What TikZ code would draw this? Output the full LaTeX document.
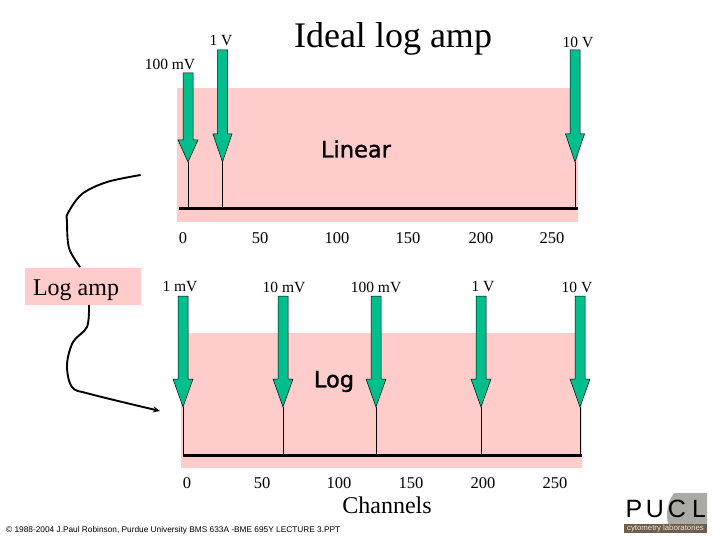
\documentclass[tikz,border=0pt]{standalone}
\usepackage{fontspec}
\setmainfont{Liberation Serif}
\newfontfamily\labelfont[FakeBold=1.2]{DejaVu Sans}
\newfontfamily\footfont{Liberation Sans}
\usetikzlibrary{arrows.meta}
\definecolor{bandpink}{HTML}{FFCCCC}
\definecolor{arrowgreen}{HTML}{00BF8C}
\definecolor{logobrown}{HTML}{6E5E4C}
\definecolor{logogray}{HTML}{ABABA6}
\tikzset{
  band/.style={fill=bandpink,draw=none},
  pointer/.style={fill=arrowgreen,draw=black,line width=0.5pt,line join=miter},
  tickline/.style={draw=black,line width=0.9pt},
  axisline/.style={draw=black,line width=3pt},
  curveline/.style={draw=black,line width=1.9pt,line join=round},
  val/.style={font=\fontsize{16.5}{18}\selectfont,inner sep=0pt},
  volt/.style={font=\fontsize{15.5}{18}\selectfont,inner sep=0pt},
  big/.style={font=\fontsize{24}{28}\selectfont,inner sep=0pt},
  scalename/.style={font=\labelfont\fontsize{22.5}{26}\selectfont,inner sep=0pt},
  logoletter/.style={inner sep=0pt,font=\footfont\fontsize{25}{28}\selectfont},
}
% name, x, top, head base y, half head width, tip y
\newcommand{\greenarrow}[6]{%
  \draw[pointer] ({#2-5},#3) -- ({#2+5},#3) -- ({#2+5},#4) -- ({#2+#5},#4) -- (#2,#6)
     -- ({#2-#5},#4) -- ({#2-5},#4) -- cycle;
  \coordinate (#1) at (#2,#6);}
\begin{document}
\begin{tikzpicture}[x=1pt,y=-1pt]
\useasboundingbox (0,0) rectangle (720,540);
\fill[white] (0,0) rectangle (720,540);
% bands
\path[band] (177,88) rectangle (578,222);
\path[band] (181,333) rectangle (582,468);
\path[band] (25,268) rectangle (141,305);
% axes
\coordinate (axisAl) at (179,209);
\coordinate (axisAr) at (578,209);
\coordinate (axisBl) at (183,455);
\coordinate (axisBr) at (582,455);
\draw[axisline] (axisAl) -- (axisAr);
\draw[axisline] (axisBl) -- (axisBr);
% upper arrows
\greenarrow{ua}{188}{73}{140}{10}{162}
\greenarrow{ub}{222.5}{50}{134}{9.5}{162}
\greenarrow{uc}{575}{50}{134}{9.5}{162}
\draw[tickline] (ua) -- (ua |- axisAl);
\draw[tickline] (ub) -- (ub |- axisAl);
\draw[tickline] (uc) -- (uc |- axisAl);
% lower arrows
\greenarrow{la}{183}{296}{379}{10}{407}
\greenarrow{lb}{283}{296}{379}{10}{407}
\greenarrow{lc}{376}{296}{379}{10}{407}
\greenarrow{ld}{481}{296}{379}{10}{407}
\greenarrow{le}{580}{296}{379}{10}{407}
\draw[tickline] (la) -- (la |- axisBl);
\draw[tickline] (lb) -- (lb |- axisBl);
\draw[tickline] (lc) -- (lc |- axisBl);
\draw[tickline] (ld) -- (ld |- axisBl);
\draw[tickline] (le) -- (le |- axisBl);
% titles
\node[inner sep=0pt,font=\fontsize{36}{40}\selectfont] (title) at (393,39) {Ideal log amp};
\node[big] (logamp) at (76,290) {Log amp};
\node[big] (channels) at (387,505.5) {Channels};
\node[scalename] (linear) at (356,149) {Linear};
\node[scalename] (logscale) at (334,381.5) {Log};
% upper voltage labels
\node[volt] (v1) at (221,41) {1 V};
\node[volt] (v2) at (170,64) {100 mV};
\node[volt] (v3) at (578,42) {10 V};
% middle voltage labels
\node[volt] (m1) at (180,287) {1 mV};
\node[volt] (m2) at (284,287) {10 mV};
\node[volt] (m3) at (376,287) {100 mV};
\node[volt] (m4) at (483,287) {1 V};
\node[volt] (m5) at (577,287) {10 V};
% channel numbers, linear
\node[val] (a0) at (183,238) {0};
\node[val] (a1) at (260,238) {50};
\node[val] (a2) at (337,238) {100};
\node[val] (a3) at (408,238) {150};
\node[val] (a4) at (481,238) {200};
\node[val] (a5) at (552,238) {250};
% channel numbers, log
\node[val] (b0) at (187,483) {0};
\node[val] (b1) at (262,483) {50};
\node[val] (b2) at (339,483) {100};
\node[val] (b3) at (411,483) {150};
\node[val] (b4) at (483,483) {200};
\node[val] (b5) at (555,483) {250};
% curve through the Log amp box
\coordinate (cstart) at (140.7,175);
\coordinate (cup) at (80,267);
\coordinate (cdown) at (89,305);
\coordinate (cend) at (160,411);
\draw[curveline] plot[smooth,tension=0.55] coordinates {(cstart) (107,182) (82,194) (68,213) (67,222) (69,248) (cup)};
\draw[curveline,-{Stealth[length=7pt,width=6pt]}] plot[smooth,tension=0.55] coordinates {(cdown) (87,327) (73,342) (67,365) (72,387) (90,394) (cend)};
% footer
\node[anchor=west,inner sep=0pt,font=\footfont\fontsize{8.3}{10}\selectfont] (foot) at (6,530) {© 1988-2004 J.Paul Robinson, Purdue University BMS 633A -BME 695Y LECTURE 3.PPT};
% logo
\begin{scope}
\clip (624,493) rectangle (707,524);
\fill[logogray] (705,515) circle (38);
\end{scope}
\fill[logobrown] (624,524) rectangle (707,533);
\node[logoletter] (logop) at (634,509) {P};
\node[logoletter] (logou) at (655,509) {U};
\node[logoletter] (logoc) at (677,509) {C};
\node[logoletter] (logol) at (699,509) {L};
\node[inner sep=0pt,text=white!85!logobrown,font=\footfont\fontsize{7.8}{8}\selectfont] (logotext) at (665.5,528.7) {cytometry laboratories};
\end{tikzpicture}
\end{document}
